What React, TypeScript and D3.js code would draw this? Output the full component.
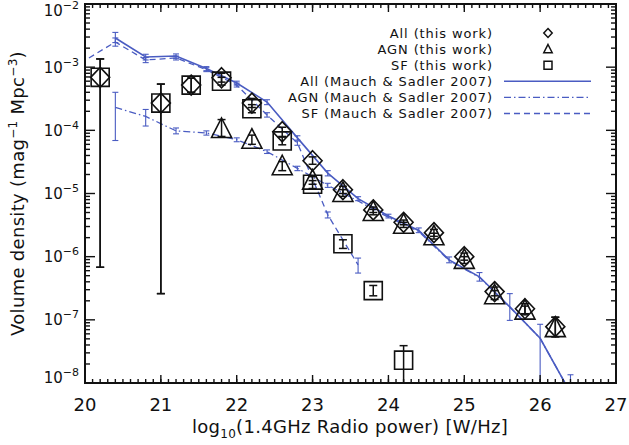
import React from "react";
import * as d3 from "d3";

// ---------- data (this work) ----------
const allX = [20.2, 21.0, 21.4, 21.8, 22.2, 22.6, 23.0, 23.4, 23.8, 24.2, 24.6, 25.0, 25.4, 25.8, 26.2];
const allVal = [6.9e-4, 2.7e-4, 5.2e-4, 6.8e-4, 2.7e-4, 9.5e-5, 3.3e-5, 1.15e-5, 5.5e-6, 3.5e-6, 2.4e-6, 1.0e-6, 2.8e-7, 1.5e-7, 7.8e-8];
const allLo = [6.8e-7, 2.6e-7, 4.0e-4, 5.8e-4, 2.3e-4, 8.0e-5, 2.9e-5, 1.0e-5, 5.0e-6, 3.2e-6, 2.1e-6, 8.8e-7, 2.4e-7, 1.25e-7, 5.4e-8];
const allHi = [1.35e-3, 5.4e-4, 6.7e-4, 8.0e-4, 3.2e-4, 1.12e-4, 3.8e-5, 1.3e-5, 6.1e-6, 3.8e-6, 2.7e-6, 1.14e-6, 3.3e-7, 1.8e-7, 1.1e-7];

const sfX = [20.2, 21.0, 21.4, 21.8, 22.2, 22.6, 23.0, 23.4, 23.8, 24.2];
const sfVal = [6.9e-4, 2.7e-4, 5.2e-4, 6.0e-4, 2.2e-4, 6.8e-5, 1.4e-5, 1.6e-6, 2.9e-7, 2.3e-8];
const sfLo = [6.8e-7, 2.6e-7, 4.0e-4, 5.2e-4, 1.9e-4, 5.9e-5, 1.2e-5, 1.35e-6, 2.4e-7, 1e-10];
const sfHi = [1.35e-3, 5.4e-4, 6.7e-4, 6.9e-4, 2.55e-4, 7.8e-5, 1.6e-5, 1.85e-6, 3.5e-7, 3.9e-8];

const agnX = [21.8, 22.2, 22.6, 23.0, 23.4, 23.8, 24.2, 24.6, 25.0, 25.4, 25.8, 26.2];
const agnVal = [1.05e-4, 7.1e-5, 2.7e-5, 1.6e-5, 1.02e-5, 5.1e-6, 3.2e-6, 2.1e-6, 8.9e-7, 2.45e-7, 1.4e-7, 7.4e-8];
const agnLo = [8.0e-5, 6.0e-5, 2.3e-5, 1.4e-5, 0.9e-5, 4.6e-6, 2.9e-6, 1.9e-6, 7.8e-7, 2.1e-7, 1.2e-7, 5.4e-8];
const agnHi = [1.48e-4, 8.4e-5, 3.2e-5, 1.85e-5, 1.15e-5, 5.6e-6, 3.5e-6, 2.35e-6, 1.0e-6, 2.9e-7, 1.65e-7, 1.1e-7];

// ---------- data (Mauch & Sadler 2007) ----------
const msX = [20.4, 20.8, 21.2, 21.6, 22.0, 22.4, 22.8, 23.2, 23.6, 24.0, 24.4, 24.8, 25.2, 25.6, 26.0, 26.4];
const msAll = [2.9e-3, 1.45e-3, 1.5e-3, 9.5e-4, 5.6e-4, 2.8e-4, 7.6e-5, 2.1e-5, 8.3e-6, 4.4e-6, 2.6e-6, 8.9e-7, 4.8e-7, 1.6e-7, 5.1e-8, 7e-9];
const msAllLo = [2.45e-3, 1.3e-3, 1.38e-3, 8.8e-4, 5.2e-4, 2.55e-4, 7.0e-5, 1.9e-5, 7.7e-6, 4.1e-6, 2.4e-6, 8.0e-7, 4.1e-7, 9.8e-8, 1e-10, 1e-10];
const msAllHi = [3.55e-3, 1.6e-3, 1.62e-3, 1.02e-3, 6.0e-4, 3.05e-4, 8.2e-5, 2.3e-5, 8.9e-6, 4.7e-6, 2.85e-6, 9.9e-7, 5.6e-7, 2.6e-7, 8.5e-8, 1.35e-8];

const msAgn = [2.3e-4, 1.66e-4, 9.8e-5, 9.1e-5, 7.1e-5, 4.6e-5, 2.5e-5, 1.35e-5, 7.6e-6, 4.2e-6, 2.5e-6, 8.7e-7, 4.7e-7, 1.6e-7, 5.1e-8, 7e-9];
const msAgnLo = [6.9e-5, 1.17e-4, 8.8e-5, 8.4e-5, 6.6e-5, 4.3e-5, 2.3e-5, 1.25e-5, 7.6e-6, 4.2e-6, 2.5e-6, 8.7e-7, 4.7e-7, 1.6e-7, 5.1e-8, 7e-9];
const msAgnHi = [4.0e-4, 2.14e-4, 1.09e-4, 9.8e-5, 7.6e-5, 4.9e-5, 2.7e-5, 1.45e-5, 7.6e-6, 4.2e-6, 2.5e-6, 8.7e-7, 4.7e-7, 1.6e-7, 5.1e-8, 7e-9];

const msSfX = [19.6, 20.4, 20.8, 21.2, 21.6, 22.0, 22.4, 22.8, 23.2, 23.6];
const msSf = [6.6e-4, 2.5e-3, 1.3e-3, 1.4e-3, 9.1e-4, 5.2e-4, 1.75e-4, 6.3e-5, 4.6e-6, 7.4e-7];
const msSfLo = [6.6e-4, 2.15e-3, 1.18e-3, 1.3e-3, 8.5e-4, 4.85e-4, 1.62e-4, 5.8e-5, 4.1e-6, 5.5e-7];
const msSfHi = [6.6e-4, 2.9e-3, 1.42e-3, 1.5e-3, 9.8e-4, 5.6e-4, 1.9e-4, 6.8e-5, 5.1e-6, 9.5e-7];

const xTickLabels = ["20", "21", "22", "23", "24", "25", "26", "27"];
const yTickExps = ["−8", "−7", "−6", "−5", "−4", "−3", "−2"];

const legendItems = [
  { label: "All (this work)", kind: "diamond" },
  { label: "AGN (this work)", kind: "triangle" },
  { label: "SF (this work)", kind: "square" },
  { label: "All (Mauch & Sadler 2007)", kind: "solid" },
  { label: "AGN (Mauch & Sadler 2007)", kind: "dashdot" },
  { label: "SF (Mauch & Sadler 2007)", kind: "dash" },
];

const BLUE = "#4a5cc2";
const FONT = "'DejaVu Sans', Verdana, sans-serif";
const DASH = "6,4";
const DASHDOT = "7,3,1.5,3";

function markerPath(kind: string, cx: number, cy: number, s: number) {
  if (kind === "diamond") {
    return `M${cx},${cy - s * 1.05}L${cx + s},${cy}L${cx},${cy + s * 1.05}L${cx - s},${cy}Z`;
  }
  if (kind === "triangle") {
    return `M${cx},${cy - s * 1.1}L${cx + s},${cy + s * 0.85}L${cx - s},${cy + s * 0.85}Z`;
  }
  return `M${cx - s * 0.95},${cy - s * 0.95}h${s * 1.9}v${s * 1.9}h${-s * 1.9}Z`;
}

export default function App() {
  const L = 85, R = 616, T = 4, B = 383;
  const x = d3.scaleLinear().domain([20, 27]).range([L, R]);
  const y = d3.scaleLog().domain([1e-8, 1e-2]).range([B, T]);

  const line = d3
    .line<[number, number]>()
    .x((d) => x(d[0]))
    .y((d) => y(d[1]));

  const zip = (xs: number[], vs: number[]) => xs.map((v, i) => [v, vs[i]] as [number, number]);

  const errBars = (xs: number[], lo: number[], hi: number[], color: string, cap: number, sw: number, key: string) =>
    xs.map((xv, i) => {
      if (lo[i] === hi[i]) return null;
      const cx = x(xv);
      const y1 = y(Math.max(lo[i], 1e-12));
      const y2 = y(hi[i]);
      return (
        <g key={key + i} stroke={color} strokeWidth={sw}>
          <line x1={cx} x2={cx} y1={y1} y2={y2} />
          <line x1={cx - cap} x2={cx + cap} y1={y1} y2={y1} />
          <line x1={cx - cap} x2={cx + cap} y1={y2} y2={y2} />
        </g>
      );
    });

  const xMajor = x.ticks(7);
  const xMinor = x.ticks(70);
  const yAll = y.ticks();
  const isMajor = (v: number) => Math.abs(Math.log10(v) - Math.round(Math.log10(v))) < 1e-6;
  const yMajor = yAll.filter(isMajor);
  const yMinor = yAll.filter((v) => !isMajor(v));

  const legendRight = 493;
  const legendY0 = 33;
  const legendDy = 16.1;

  return (
    <div style={{ position: "absolute", left: 0, top: 0 }}>
      <svg width={629} height={445} style={{ display: "block", background: "#fff" }} fontFamily={FONT}>
        <defs>
          <clipPath id="plot">
            <rect x={L} y={T} width={R - L} height={B - T} />
          </clipPath>
        </defs>

        <g clipPath="url(#plot)" fill="none">
          {/* Mauch & Sadler curves */}
          <path d={line(zip(msX, msAll)) || ""} stroke={BLUE} strokeWidth={1.6} />
          <path d={line(zip(msX, msAgn)) || ""} stroke={BLUE} strokeWidth={1.3} strokeDasharray={DASHDOT} />
          <path d={line(zip(msSfX, msSf)) || ""} stroke={BLUE} strokeWidth={1.3} strokeDasharray={DASH} />
          {errBars(msX, msAllLo, msAllHi, BLUE, 3, 1.1, "ea")}
          {errBars(msX, msAgnLo, msAgnHi, BLUE, 3, 1.1, "eg")}
          {errBars(msSfX, msSfLo, msSfHi, BLUE, 3, 1.1, "es")}

          {/* this work */}
          {errBars(allX, allLo, allHi, "#111", 4, 1.5, "ta")}
          {errBars(sfX, sfLo, sfHi, "#111", 4, 1.5, "ts")}
          {errBars(agnX, agnLo, agnHi, "#111", 4, 1.5, "tg")}
          {sfX.map((xv, i) => (
            <path key={"sq" + i} d={markerPath("square", x(xv), y(sfVal[i]), 9.5)} stroke="#111" strokeWidth={1.6} />
          ))}
          {allX.map((xv, i) => (
            <path key={"di" + i} d={markerPath("diamond", x(xv), y(allVal[i]), 9.5)} stroke="#111" strokeWidth={1.6} />
          ))}
          {agnX.map((xv, i) => (
            <path key={"tr" + i} d={markerPath("triangle", x(xv), y(agnVal[i]), 10)} stroke="#111" strokeWidth={1.6} />
          ))}
        </g>

        {/* ticks */}
        <g stroke="#111" strokeWidth={1.4}>
          {xMinor.map((v, i) => (
            <g key={"xm" + i}>
              <line x1={x(v)} x2={x(v)} y1={B} y2={B - 4} />
              <line x1={x(v)} x2={x(v)} y1={T} y2={T + 4} />
            </g>
          ))}
          {xMajor.map((v, i) => (
            <g key={"xM" + i}>
              <line x1={x(v)} x2={x(v)} y1={B} y2={B - 8} />
              <line x1={x(v)} x2={x(v)} y1={T} y2={T + 8} />
            </g>
          ))}
          {yMinor.map((v, i) => (
            <g key={"ym" + i}>
              <line x1={L} x2={L + 5} y1={y(v)} y2={y(v)} />
              <line x1={R} x2={R - 5} y1={y(v)} y2={y(v)} />
            </g>
          ))}
          {yMajor.map((v, i) => (
            <g key={"yM" + i}>
              <line x1={L} x2={L + 10} y1={y(v)} y2={y(v)} />
              <line x1={R} x2={R - 10} y1={y(v)} y2={y(v)} />
            </g>
          ))}
        </g>
        <rect x={L} y={T} width={R - L} height={B - T} fill="none" stroke="#111" strokeWidth={2} />

        {/* x tick labels */}
        {xMajor.map((v, i) => (
          <text key={"xl" + i} x={x(v)} y={411} textAnchor="middle" fontSize={18} fill="#111">
            {xTickLabels[i]}
          </text>
        ))}
        {/* y tick labels */}
        {yMajor.map((v, i) => {
          const yy = Math.min(Math.max(y(v), T + 6), B - 6);
          return (
            <text key={"yl" + i} x={79} y={yy + 5.5} textAnchor="end" fontSize={15} fill="#111">
              10
              <tspan fontSize={11} dy={-7}>
                {yTickExps[i]}
              </tspan>
            </text>
          );
        })}

        {/* axis titles */}
        <text x={350} y={433} textAnchor="middle" fontSize={18} fill="#111" letterSpacing={0.3}>
          log
          <tspan fontSize={12} dy={5}>10</tspan>
          <tspan dy={-5}>(1.4GHz Radio power) [W/Hz]</tspan>
        </text>
        <text
          transform={`translate(24,${(T + B) / 2}) rotate(-90)`}
          textAnchor="middle"
          fontSize={18}
          fill="#111"
          letterSpacing={0.3}
        >
          Volume density (mag
          <tspan fontSize={12} dy={-7}>−1</tspan>
          <tspan dy={7}> Mpc</tspan>
          <tspan fontSize={12} dy={-7}>−3</tspan>
          <tspan dy={7}>)</tspan>
        </text>

        {/* legend */}
        {legendItems.map((it, i) => {
          const ly = legendY0 + i * legendDy;
          let sym: React.ReactNode = null;
          if (it.kind === "diamond" || it.kind === "triangle" || it.kind === "square") {
            sym = <path d={markerPath(it.kind, 548, ly, 4.2)} fill="none" stroke="#111" strokeWidth={1.5} />;
          } else {
            sym = (
              <line
                x1={504}
                x2={591}
                y1={ly}
                y2={ly}
                stroke={BLUE}
                strokeWidth={it.kind === "solid" ? 1.6 : 1.3}
                strokeDasharray={it.kind === "solid" ? undefined : it.kind === "dash" ? DASH : DASHDOT}
              />
            );
          }
          return (
            <g key={"lg" + i}>
              <text x={legendRight} y={ly + 4.7} textAnchor="end" fontSize={13} letterSpacing={0.9} fill="#111">
                {it.label}
              </text>
              {sym}
            </g>
          );
        })}
      </svg>
    </div>
  );
}
